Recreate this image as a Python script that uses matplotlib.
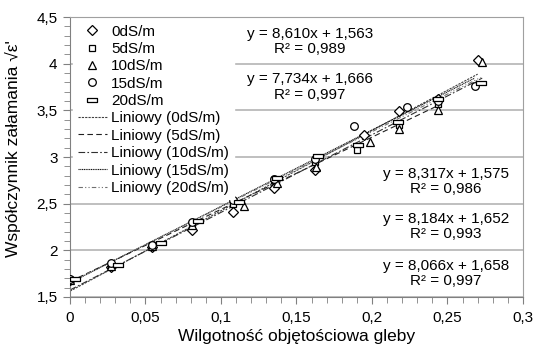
import numpy as np
import matplotlib
matplotlib.use('Agg')
import matplotlib.pyplot as plt
from matplotlib.ticker import MultipleLocator, FuncFormatter

plt.rcParams['font.family'] = ['Liberation Sans', 'DejaVu Sans']

# --------- DATA ----------
SERIES = ["0dS/m", "5dS/m", "10dS/m", "15dS/m", "20dS/m"]

x_0 = [0.000, 0.027, 0.054, 0.081, 0.108, 0.135, 0.162, 0.195, 0.218, 0.244, 0.270]
y_0 = [1.68, 1.82, 2.04, 2.22, 2.41, 2.67, 2.86, 3.24, 3.49, 3.62, 4.04]

x_5 = [0.000, 0.027, 0.054, 0.081, 0.108, 0.135, 0.162, 0.190, 0.218, 0.244]
y_5 = [1.68, 1.84, 2.06, 2.28, 2.50, 2.75, 2.95, 3.07, 3.34, 3.57]

x_10 = [0.000, 0.027, 0.054, 0.081, 0.115, 0.137, 0.163, 0.199, 0.218, 0.244, 0.273]
y_10 = [1.68, 1.83, 2.05, 2.27, 2.48, 2.72, 2.89, 3.16, 3.30, 3.50, 4.02]

x_15 = [0.000, 0.027, 0.054, 0.081, 0.108, 0.135, 0.162, 0.188, 0.223, 0.244, 0.268]
y_15 = [1.69, 1.86, 2.06, 2.30, 2.54, 2.76, 2.98, 3.33, 3.54, 3.60, 3.76]

x_20 = [0.003, 0.032, 0.060, 0.085, 0.112, 0.137, 0.164, 0.191, 0.217, 0.244, 0.272]
y_20 = [1.69, 1.84, 2.08, 2.31, 2.52, 2.77, 3.01, 3.13, 3.38, 3.62, 3.79]

# trendline coefficients (Excel labels)
slopes = [8.610, 7.734, 8.317, 8.184, 8.066]
intercepts = [1.563, 1.666, 1.575, 1.652, 1.658]
r2 = [0.989, 0.997, 0.986, 0.993, 0.997]
# -------------------------

xs = [x_0, x_5, x_10, x_15, x_20]
ys = [y_0, y_5, y_10, y_15, y_20]

rect = [(-1, -0.45), (1, -0.45), (1, 0.45), (-1, 0.45), (-1, -0.45)]
markers = ['D', 's', '^', 'o', rect]
msizes = [5.0, 5.0, 5.5, 5.5, 7.0]
line_styles = [(0, (2, 1)), (0, (5, 3)), (0, (6, 2, 1.5, 2)), (0, (1, 0.6)), (0, (4, 2, 1, 2, 1, 2))]
line_colors = ['#404040', '#202020', '#303030', '#101010', '#707070']


def comma(v, _pos):
    s = f"{v:.2f}".rstrip('0').rstrip('.')
    return s.replace('.', ',')


fig = plt.figure(figsize=(5.36, 3.47), dpi=100)
ax = fig.add_axes([0.1306, 0.1441, 0.8451, 0.8069])

for i, name in enumerate(SERIES):
    ax.plot(xs[i], ys[i], linestyle='none', marker=markers[i], markersize=msizes[i],
            markerfacecolor='white', markeredgecolor='black', markeredgewidth=0.9,
            label=name, zorder=3)

for i, name in enumerate(SERIES):
    xx = np.array([min(xs[i]), max(xs[i])])
    ax.plot(xx, slopes[i] * xx + intercepts[i], linestyle=line_styles[i],
            color=line_colors[i], linewidth=0.8, label=f"Liniowy ({name})", zorder=2)

ax.set_xlim(0, 0.3)
ax.set_ylim(1.5, 4.5)
ax.xaxis.set_major_locator(MultipleLocator(0.05))
ax.xaxis.set_minor_locator(MultipleLocator(0.01))
ax.yaxis.set_major_locator(MultipleLocator(0.5))
ax.yaxis.set_minor_locator(MultipleLocator(0.1))
ax.xaxis.set_major_formatter(FuncFormatter(comma))
ax.yaxis.set_major_formatter(FuncFormatter(comma))
ax.tick_params(which='both', direction='out', labelsize=11, color='#808080')
ax.tick_params(which='major', length=5)
ax.tick_params(which='minor', length=4)
ax.tick_params(axis='x', pad=5)
ax.tick_params(axis='y', pad=4)

ax.grid(True, axis='y', which='major', color='#b4b4b4', linewidth=1.2, zorder=0)
ax.set_axisbelow(True)
for side in ['left', 'bottom']:
    ax.spines[side].set_color('#808080')
for side in ['top', 'right']:
    ax.spines[side].set_color('#a0a0a0')

ax.set_xlabel("Wilgotność objętościowa gleby", fontsize=12.5, labelpad=3)
ax.set_ylabel("Współczynnik załamania √ε'", fontsize=12.5)
ax.yaxis.set_label_coords(-0.108, 0.53)

# equation labels
eq_pos = [(0.53, 0.912), (0.53, 0.75), (0.83, 0.414), (0.83, 0.252), (0.83, 0.084)]
for i in range(len(SERIES)):
    txt = (f"y = {slopes[i]:.3f}x + {intercepts[i]:.3f}".replace('.', ',')
           + "\n" + f"R² = {r2[i]:.3f}".replace('.', ','))
    ax.text(eq_pos[i][0], eq_pos[i][1], txt, transform=ax.transAxes, fontsize=11,
            ha='center', va='center', multialignment='center', linespacing=1.1, zorder=4)

leg = ax.legend(loc='upper left', fontsize=11, frameon=True, fancybox=False,
                edgecolor='white', facecolor='white', framealpha=1.0,
                borderpad=0.3, labelspacing=0.22, handlelength=1.9, handletextpad=0.3,
                borderaxespad=0.2)
leg.set_zorder(5)

fig.savefig("out.png", dpi=100)
